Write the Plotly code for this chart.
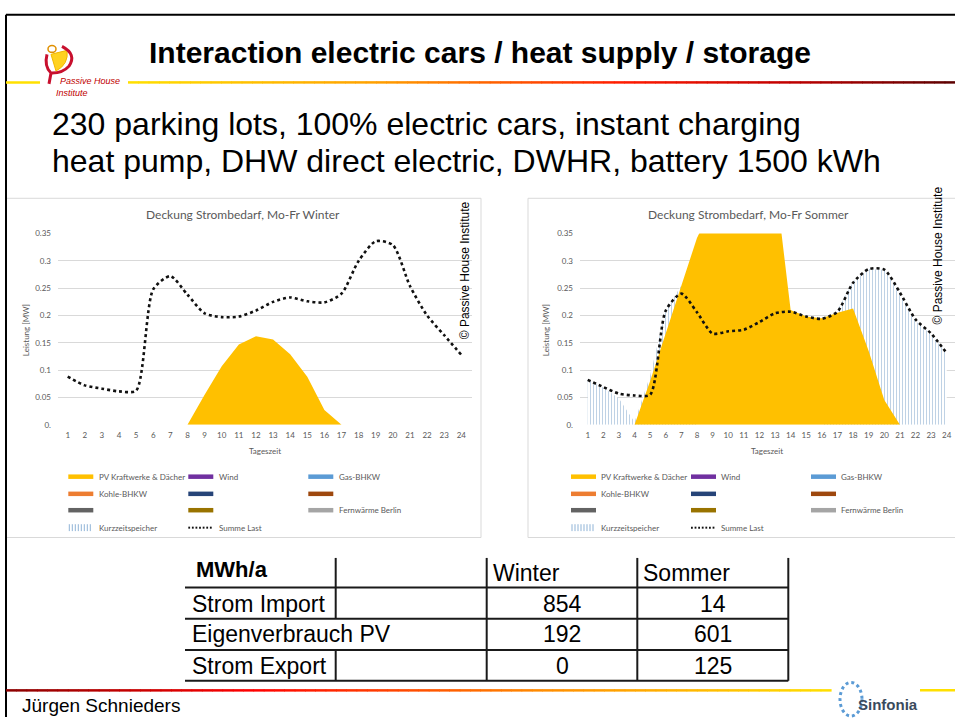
import plotly.graph_objects as go

W, H = 955, 722
def X(px): return px / W
def Y(py): return 1 - py / H

# ---------------- data ----------------
hours = list(range(1, 25))
winter_pv = [0, 0, 0, 0, 0, 0, 0, 0, 0.055, 0.107, 0.147, 0.162, 0.156, 0.129, 0.088, 0.027,
             0, 0, 0, 0, 0, 0, 0, 0]
winter_load = [0.088, 0.072, 0.066, 0.061, 0.0625, 0.248, 0.272, 0.238, 0.204, 0.197, 0.198, 0.209,
               0.225, 0.233, 0.226, 0.224, 0.240, 0.300, 0.336, 0.329, 0.254, 0.200, 0.164, 0.128]
summer_pv = [0, 0, 0, 0, 0.080, 0.167, 0.255, 0.342, 0.40, 0.43, 0.45, 0.46, 0.45, 0.21,
             0.198, 0.195, 0.205, 0.213, 0.135, 0.045, 0, 0, 0, 0]
summer_storage = [0.082, 0.068, 0.048, 0.005, 0.09, 0.21, 0.255, 0, 0, 0, 0, 0, 0, 0, 0, 0,
                  0.21, 0.262, 0.285, 0.284, 0.24, 0.19, 0.165, 0.13]
summer_load = [0.082, 0.069, 0.057, 0.0535, 0.055, 0.209, 0.240, 0.206, 0.167, 0.171, 0.174, 0.188,
               0.204, 0.207, 0.198, 0.194, 0.207, 0.260, 0.285, 0.284, 0.242, 0.193, 0.167, 0.131]
y_tickvals = [0, 0.05, 0.1, 0.15, 0.2, 0.25, 0.3, 0.35]
y_ticktext = ["0.", "0.05", "0.1", "0.15", "0.2", "0.25", "0.3", "0.35"]
chart_titles = ["Deckung Strombedarf, Mo-Fr Winter", "Deckung Strombedarf, Mo-Fr Sommer"]
legend_labels = ["PV Kraftwerke & Dächer", "Wind", "Gas-BHKW", "Kohle-BHKW", "", "",
                 "", "", "Fernwärme Berlin", "Kurzzeitspeicher", "Summe Last"]
legend_colors = ["#FFC000", "#7030A0", "#5B9BD5", "#ED7D31", "#264478", "#9E480E",
                 "#636363", "#997300", "#A5A5A5", "hatch", "dot"]
table_header = ["MWh/a", "Winter", "Sommer"]
table_rows = ["Strom Import", "Eigenverbrauch PV", "Strom Export"]
table_winter = [854, 192, 0]
table_sommer = [14, 601, 125]

PV_COLOR = "#FFC000"
GRAY_TXT = "#595959"
CHART_FONT = "Lato, Open Sans, sans-serif"
SLIDE_FONT = "Liberation Sans, Arial, sans-serif"

fig = go.Figure()

# ---- left (winter) chart ----
fig.add_trace(go.Scatter(x=hours, y=winter_pv, mode="lines", fill="tozeroy",
                         line=dict(width=0, color=PV_COLOR), fillcolor=PV_COLOR,
                         xaxis="x", yaxis="y", hoverinfo="skip"))
fig.add_trace(go.Scatter(x=hours, y=winter_load, mode="lines",
                         line=dict(color="#111111", width=2.6, dash="dot", shape="spline", smoothing=0.7),
                         xaxis="x", yaxis="y"))

# ---- right (summer) chart ----
fig.add_trace(go.Scatter(x=hours, y=summer_storage, mode="lines", fill="tozeroy",
                         line=dict(width=0, color="#8FB3D6"),
                         fillpattern=dict(shape="|", fgcolor="#7FA6CC", bgcolor="white",
                                          size=3, solidity=0.35),
                         xaxis="x2", yaxis="y2", hoverinfo="skip"))
fig.add_trace(go.Scatter(x=hours, y=summer_pv, mode="lines", fill="tozeroy",
                         line=dict(width=0, color=PV_COLOR), fillcolor=PV_COLOR,
                         xaxis="x2", yaxis="y2", hoverinfo="skip"))
fig.add_trace(go.Scatter(x=hours, y=summer_load, mode="lines",
                         line=dict(color="#111111", width=2.6, dash="dot", shape="spline", smoothing=0.7),
                         xaxis="x2", yaxis="y2"))

xcommon = dict(tickmode="array", tickvals=hours, ticks="", showgrid=False, zeroline=False,
               showline=False, tickfont=dict(size=8, color=GRAY_TXT, family=CHART_FONT),
               ticklabelstandoff=4, fixedrange=True)
ycommon = dict(tickmode="array", tickvals=y_tickvals, ticktext=y_ticktext, range=[-0.0002, 0.3502],
               showgrid=True, gridcolor="#D9D9D9", gridwidth=1, zeroline=False, showline=False,
               ticks="", tickfont=dict(size=8, color=GRAY_TXT, family=CHART_FONT),
               ticklabelstandoff=6, fixedrange=True)

fig.update_layout(
    width=W, height=H, margin=dict(l=0, r=0, t=0, b=0),
    paper_bgcolor="white", plot_bgcolor="rgba(0,0,0,0)", showlegend=False,
    xaxis=dict(domain=[X(58), X(472)], range=[0.433, 24.625], anchor="y", **xcommon),
    yaxis=dict(domain=[Y(425.7), Y(231.7)], anchor="x", **ycommon),
    xaxis2=dict(domain=[X(580), 1.0], range=[0.507, 24.53], anchor="y2", **xcommon),
    yaxis2=dict(domain=[Y(425.7), Y(231.7)], anchor="x2", **ycommon),
)

shapes = []
ann = []

def line(x0, y0, x1, y1, color, width=1, dash=None, layer="above"):
    d = dict(type="line", xref="paper", yref="paper", x0=X(x0), y0=Y(y0), x1=X(x1), y1=Y(y1),
             line=dict(color=color, width=width), layer=layer)
    if dash:
        d["line"]["dash"] = dash
    shapes.append(d)

def text(x, y, s, size, color="black", family=SLIDE_FONT, xanchor="left", angle=0, bold=False, italic=False):
    if bold:
        s = "<b>" + s + "</b>"
    if italic:
        s = "<i>" + s + "</i>"
    ann.append(dict(xref="paper", yref="paper", x=X(x), y=Y(y), text=s, showarrow=False,
                    xanchor=xanchor, yanchor="middle", textangle=angle,
                    font=dict(size=size, color=color, family=family)))

def hex2rgb(h):
    h = h.lstrip("#")
    return tuple(int(h[i:i + 2], 16) for i in (0, 2, 4))

def grad_color(stops, t):
    for i in range(len(stops) - 1):
        t0, c0 = stops[i]
        t1, c1 = stops[i + 1]
        if t0 <= t <= t1:
            f = (t - t0) / (t1 - t0) if t1 > t0 else 0
            a, b = hex2rgb(c0), hex2rgb(c1)
            return "rgb(%d,%d,%d)" % tuple(round(a[k] + (b[k] - a[k]) * f) for k in range(3))
    return stops[-1][1]

def grad_line(x0, x1, y, stops, width=2.5, n=80):
    step = (x1 - x0) / n
    for i in range(n):
        c = grad_color(stops, (i + 0.5) / n)
        line(x0 + i * step, y, x0 + (i + 1) * step + 0.6, y, c, width)

# slide frame
line(6, 10, 955, 10, "black", 2)
line(6, 10, 6, 722, "black", 2)

# header gradient line
line(6, 78.5, 40, 78.5, "#FFE000", 2.5)
grad_line(128, 955, 78.5, [(0, "#FFE000"), (0.3, "#FFA000"), (0.6, "#FF1A00"), (0.8, "#C00000"), (1, "#5A0000")])
# footer gradient line
grad_line(6, 831, 695, [(0, "#8B0000"), (0.3, "#FF0000"), (0.65, "#FF8C00"), (1, "#FFE000")])
line(920, 695, 955, 695, "#FFE000", 2.5)

# logo (Passive House Institute)
def P(x, y): return "%.5f,%.5f" % (X(x), Y(y))
shapes.append(dict(type="path", xref="paper", yref="paper",
                   path="M " + P(51, 50) + " L " + P(67, 46) + " Q " + P(69, 60) + " " + P(56, 67) + " Z",
                   fillcolor="#FFD21F", line=dict(color="#F2B800", width=1)))
shapes.append(dict(type="path", xref="paper", yref="paper",
                   path="M " + P(62, 42) + " Q " + P(77, 50) + " " + P(69, 62) + " Q " + P(63, 69) + " " + P(52, 69),
                   line=dict(color="#C8102E", width=3)))
shapes.append(dict(type="path", xref="paper", yref="paper",
                   path="M " + P(47, 50) + " Q " + P(44, 62) + " " + P(51, 69) + " L " + P(49, 80),
                   line=dict(color="#C8102E", width=3)))
shapes.append(dict(type="circle", xref="paper", yref="paper", x0=X(48), y0=Y(48), x1=X(56), y1=Y(41),
                   line=dict(color="#E09000", width=1.5)))
text(58, 77, "Passive House", 9, "#C00000", italic=True)
text(54, 89, "Institute", 9, "#C00000", italic=True)

# Title and subtitle
text(147, 48, "Interaction electric cars / heat supply / storage", 30, "black", bold=True)
text(50, 121, "230 parking lots, 100% electric cars, instant charging", 32, "black")
text(50, 158, "heat pump, DHW direct electric, DWHR, battery 1500 kWh", 32, "black")

# chart frames
shapes.append(dict(type="rect", xref="paper", yref="paper", x0=X(6), x1=X(481), y0=Y(540), y1=Y(196),
                   line=dict(color="#D9D9D9", width=1), layer="below"))
shapes.append(dict(type="rect", xref="paper", yref="paper", x0=X(528), x1=X(960), y0=Y(540), y1=Y(196),
                   line=dict(color="#D9D9D9", width=1), layer="below"))

# chart texts
for cx, t in zip([243, 748], chart_titles):
    text(cx, 212, t, 12, GRAY_TXT, CHART_FONT, xanchor="center")
for lx in [26.7, 546.7]:
    text(lx, 330, "Leistung [MW]", 8, GRAY_TXT, CHART_FONT, xanchor="center", angle=-90)
for tx in [265, 767]:
    text(tx, 452, "Tageszeit", 8, GRAY_TXT, CHART_FONT, xanchor="center")
text(465, 269, "© Passive House Institute", 12, "black", xanchor="center", angle=-90)
text(938, 254, "© Passive House Institute", 12, "black", xanchor="center", angle=-90)

# legends
row_y = [478.3, 495.7, 512.3, 530]
col_x = [68.3, 188.3, 308.3]
for off in [0, 502.7]:
    for i, (lab, col) in enumerate(zip(legend_labels, legend_colors)):
        r, c = divmod(i, 3)
        x0 = col_x[c] + off
        y = row_y[r]
        if col == "hatch":
            for k in range(8):
                line(x0 + 1 + k * 3, y - 3.5, x0 + 1 + k * 3, y + 3.5, "#8FB3D6", 1)
        elif col == "dot":
            for k in range(7):
                line(x0 + k * 3.6, y, x0 + k * 3.6 + 1.8, y, "#111111", 2)
        else:
            line(x0, y, x0 + 25, y, col, 4.5)
        if lab:
            text(x0 + 28.4, y, lab, 8, GRAY_TXT, CHART_FONT)

# table
hy = [590.7, 622.3, 654, 685.3]
for yy in hy:
    line(185, yy, 788.3, yy, "#1a1a1a", 2)
line(335.7, 560.7, 335.7, 622.3, "#1a1a1a", 2)
line(335.7, 654, 335.7, 685.3, "#1a1a1a", 2)
for vx in [486.7, 637.3, 788.3]:
    line(vx, 560.7, vx, 685.3, "#1a1a1a", 2)
text(194, 572, table_header[0], 22, "black", bold=True)
text(491, 576, table_header[1], 23, "black")
text(641, 576, table_header[2], 23, "black")
row_c = [607, 638, 670]
for ry, lab, w, s in zip(row_c, table_rows, table_winter, table_sommer):
    text(190, ry, lab, 23, "black")
    text(562, ry, str(w), 23, "black", xanchor="center")
    text(712.8, ry, str(s), 23, "black", xanchor="center")

# footer
text(20, 710, "Jürgen Schnieders", 19, "black")
shapes.append(dict(type="circle", xref="paper", yref="paper", x0=X(840), y0=Y(721), x1=X(862), y1=Y(687),
                   line=dict(color="#5B9BD5", width=3, dash="dot")))
text(856, 709, "Sinfonia", 15, "#3A4A5C", bold=True)

fig.update_layout(shapes=shapes, annotations=ann)
fig.write_html("out.html", config={"displayModeBar": False},
               post_script="document.body.style.margin='0';document.body.style.padding='0';"
                           "document.body.style.overflow='hidden';")
